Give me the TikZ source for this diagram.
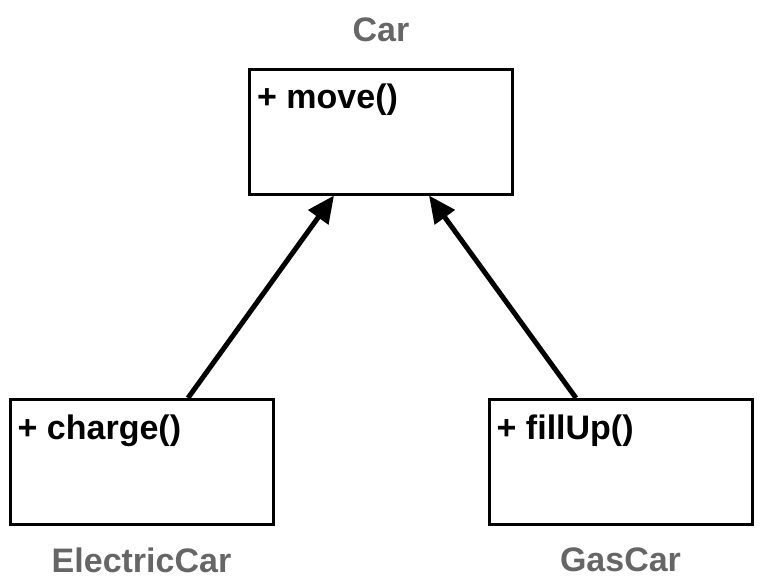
\documentclass[tikz,border=0pt]{standalone}
\usepackage{fontspec}
\setmainfont{Liberation Sans}
\usepackage{tikz}
\usetikzlibrary{arrows.meta,positioning}
\definecolor{namegray}{HTML}{666666}

\begin{document}
\begin{tikzpicture}[
    x=1pt, y=-1pt,
    classbox/.style={rectangle, draw=black, line width=3pt, minimum width=263pt, minimum height=125pt, inner sep=0pt},
    member/.style={inner sep=0pt, font=\fontsize{34}{40}\bfseries\selectfont},
    classname/.style={inner sep=0pt, text=namegray, font=\fontsize{34}{40}\bfseries\selectfont},
    arrow/.style={line width=5pt, -{Triangle[length=27pt,width=24pt]}}
]
\useasboundingbox (0,0) rectangle (765,584);

% Classes
\node[classbox] (car) at (381,131.5) {};
\node[classbox] (electric) at (141.5,462) {};
\node[classbox] (gas) at (620.5,462) {};

% Members
\node[member, anchor=base west] (carops) at ([xshift=9pt,yshift=-41pt]car.north west) {+ move()};
\node[member, anchor=base west] (electricops) at ([xshift=9pt,yshift=-41pt]electric.north west) {+ charge()};
\node[member, anchor=base west] (gasops) at ([xshift=9pt,yshift=-41pt]gas.north west) {+ fillUp()};

% Names
\node[classname, above=25pt of car] (carname) {Car};
\node[classname, below=22pt of electric] (electricname) {ElectricCar};
\node[classname, below=22pt of gas] (gasname) {GasCar};

% Arrows
\draw[arrow] ([xshift=46.5pt]electric.north) -- ([xshift=-47pt]car.south);
\draw[arrow] ([xshift=-44.5pt]gas.north) -- ([xshift=48pt]car.south);

\end{tikzpicture}
\end{document}
